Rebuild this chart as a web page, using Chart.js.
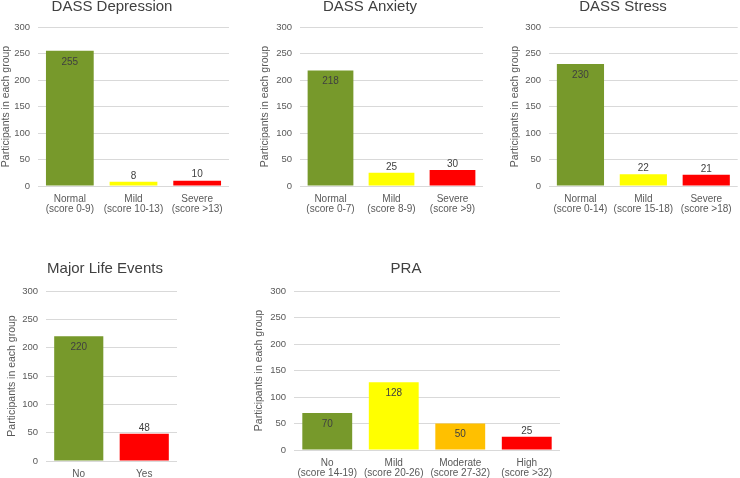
<!DOCTYPE html>
<html>
<head>
<meta charset="utf-8">
<script src="https://cdn.jsdelivr.net/npm/chart.js@4.4.1/dist/chart.umd.min.js"></script>
<style>
  html, body { margin: 0; padding: 0; background: #fff; }
  #wrap { position: relative; width: 740px; height: 478px; overflow: hidden; }
  #wrap canvas { position: absolute; }
</style>
</head>
<body>
<div id="wrap"></div>
<script>
// Datos
const depCategories = [['Normal', '(score 0-9)'], ['Mild', '(score 10-13)'], ['Severe', '(score >13)']];
const depValues = [255, 8, 10];

const anxCategories = [['Normal', '(score 0-7)'], ['Mild', '(score 8-9)'], ['Severe', '(score >9)']];
const anxValues = [218, 25, 30];

const strCategories = [['Normal', '(score 0-14)'], ['Mild', '(score 15-18)'], ['Severe', '(score >18)']];
const strValues = [230, 22, 21];

const lifeCategories = ['No', 'Yes'];
const lifeValues = [220, 48];

const praCategories = [['No', '(score 14-19)'], ['Mild', '(score 20-26)'], ['Moderate', '(score 27-32)'], ['High', '(score >32)']];
const praValues = [70, 128, 50, 25];

const yMin = 0;
const yMax = 300;
const yStep = 50;
const yTitle = 'Participants in each group';

// Colores
const VERDE = '#77992b';
const AMARILLO = '#ffff00';
const NARANJA = '#ffc000';
const ROJO = '#ff0000';
const FONT = '"Liberation Sans", Arial, sans-serif';

// Etiquetas de valor sobre / dentro de las barras
const valueLabels = {
  id: 'valueLabels',
  afterDatasetsDraw(chart, args, opts) {
    const ctx = chart.ctx;
    const meta = chart.getDatasetMeta(0);
    const data = chart.data.datasets[0].data;
    ctx.save();
    ctx.font = '10px ' + FONT;
    ctx.fillStyle = '#404040';
    ctx.textAlign = 'center';
    ctx.textBaseline = 'middle';
    meta.data.forEach((bar, i) => {
      const y = opts.inside[i] ? bar.y + 11 : bar.y - 6;
      ctx.fillText(String(data[i]), bar.x, y);
    });
    ctx.restore();
  }
};

// Título de cada panel en posición fija
const panelTitle = {
  id: 'panelTitle',
  afterDraw(chart, args, opts) {
    const ctx = chart.ctx;
    ctx.save();
    ctx.font = '15px ' + FONT;
    ctx.fillStyle = '#404040';
    ctx.textAlign = 'center';
    ctx.textBaseline = 'middle';
    ctx.fillText(opts.text, opts.x, opts.y);
    ctx.restore();
  }
};

function crearPanel(box, plot, categories, values, colors, inside, title) {
  const canvas = document.createElement('canvas');
  canvas.width = box.width;
  canvas.height = box.height;
  canvas.style.left = box.left + 'px';
  canvas.style.top = box.top + 'px';
  canvas.style.width = box.width + 'px';
  canvas.style.height = box.height + 'px';
  document.getElementById('wrap').appendChild(canvas);

  return new Chart(canvas.getContext('2d'), {
    type: 'bar',
    data: {
      labels: categories,
      datasets: [{
        data: values,
        backgroundColor: colors,
        borderWidth: 0,
        barPercentage: 0.75,
        categoryPercentage: 1
      }]
    },
    plugins: [valueLabels, panelTitle],
    options: {
      responsive: false,
      animation: false,
      devicePixelRatio: 1,
      layout: {
        padding: {
          left: 0,
          bottom: 0,
          top: plot.t - box.top,
          right: box.left + box.width - plot.r
        }
      },
      plugins: {
        legend: { display: false },
        tooltip: { enabled: false },
        title: { display: false },
        valueLabels: { inside: inside },
        panelTitle: { text: title.text, x: title.x - box.left, y: title.y - box.top }
      },
      scales: {
        x: {
          grid: { display: false, drawTicks: false },
          border: { display: false },
          ticks: {
            color: '#595959',
            font: { family: FONT, size: 10, lineHeight: 1.0 },
            padding: 8,
            maxRotation: 0,
            autoSkip: false
          },
          afterFit: s => { s.height = box.top + box.height - plot.b; }
        },
        y: {
          min: yMin,
          max: yMax,
          ticks: {
            stepSize: yStep,
            color: '#595959',
            font: { family: FONT, size: 9.5 },
            padding: 8
          },
          grid: { color: '#d9d9d9', drawTicks: false, lineWidth: 1 },
          border: { display: false },
          title: {
            display: true,
            text: yTitle,
            color: '#595959',
            font: { family: FONT, size: 10.5 },
            padding: { top: 0, bottom: 0 }
          },
          afterFit: s => { s.width = plot.l - box.left; }
        }
      }
    }
  });
}

crearPanel({ left: 0, top: 0, width: 236, height: 220 }, { l: 38, t: 27, r: 229, b: 186 },
  depCategories, depValues, [VERDE, AMARILLO, ROJO], [true, false, false],
  { text: 'DASS Depression', x: 112, y: 7 });

crearPanel({ left: 259, top: 0, width: 231, height: 220 }, { l: 300, t: 27, r: 483, b: 186 },
  anxCategories, anxValues, [VERDE, AMARILLO, ROJO], [true, false, false],
  { text: 'DASS Anxiety', x: 370, y: 7 });

crearPanel({ left: 509, top: 0, width: 231, height: 220 }, { l: 549, t: 27, r: 738, b: 186 },
  strCategories, strValues, [VERDE, AMARILLO, ROJO], [true, false, false],
  { text: 'DASS Stress', x: 623, y: 7 });

crearPanel({ left: 6, top: 240, width: 180, height: 238 }, { l: 46, t: 291, r: 177, b: 461 },
  lifeCategories, lifeValues, [VERDE, ROJO], [true, false],
  { text: 'Major Life Events', x: 105, y: 269 });

crearPanel({ left: 253, top: 240, width: 310, height: 238 }, { l: 294, t: 291, r: 560, b: 450 },
  praCategories, praValues, [VERDE, AMARILLO, NARANJA, ROJO], [true, true, true, false],
  { text: 'PRA', x: 406, y: 269 });
</script>
</body>
</html>
